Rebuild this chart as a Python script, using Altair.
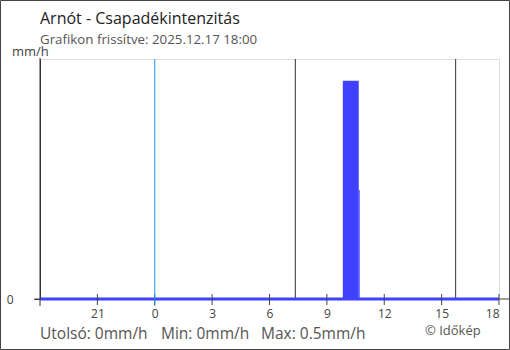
import altair as alt
import pandas as pd

# ---- data ----
rain_start = ["2025-12-17T09:50", "2025-12-17T10:40"]
rain_end = ["2025-12-17T10:40", "2025-12-17T10:43"]
rain_value = [0.5, 0.25]

tick_times = ["2025-12-16T21:00", "2025-12-17T00:00", "2025-12-17T03:00",
              "2025-12-17T06:00", "2025-12-17T09:00", "2025-12-17T12:00",
              "2025-12-17T15:00", "2025-12-17T18:00"]
start_time = "2025-12-16T18:00"
end_time = "2025-12-17T18:00"
midnight = ["2025-12-17T00:00"]
sun_times = ["2025-12-17T07:21", "2025-12-17T15:44"]  # sunrise, sunset

title = "Arnót - Csapadékintenzitás"
subtitle = "Grafikon frissítve: 2025.12.17 18:00"
unit = "mm/h"
stats = ["Utolsó: 0mm/h", "Min: 0mm/h", "Max: 0.5mm/h"]
credit = "© Időkép"

W, H = 459, 240
FONT = "Open Sans"
DARK = "#333333"
GRAY = "#444444"
BLUE = "#4040FF"
LBLUE = "#1E96E6"

xscale = alt.Scale(domain=[alt.DateTime(year=2025, month=12, date=16, hours=18),
                           alt.DateTime(year=2025, month=12, date=17, hours=18)],
                   nice=False)
yscale = alt.Scale(domain=[0, 0.55], nice=False)

rain_df = pd.DataFrame({"start": rain_start, "end": rain_end, "v": rain_value})

x_axis = alt.Axis(values=[alt.DateTime(year=2025, month=12, date=16, hours=21)] +
                  [alt.DateTime(year=2025, month=12, date=17, hours=h) for h in range(0, 19, 3)],
                  format="%-H", title=None, ticks=False, domain=False, grid=False,
                  labelFont=FONT, labelFontSize=12, labelColor="#444444",
                  labelPadding=9, labelBaseline="top")
y_axis = alt.Axis(values=[0], format="d", title=None, grid=False, domainColor=DARK, domainWidth=1,
                  tickColor=GRAY, tickSize=6, labelPadding=21, labelFont=FONT,
                  labelFontSize=12, labelColor="#444444")

bars = alt.Chart(rain_df).mark_rect(color=BLUE).encode(
    x=alt.X("start:T", scale=xscale, axis=x_axis),
    x2="end:T",
    y=alt.Y("v:Q", scale=yscale, axis=y_axis),
    y2=alt.datum(0),
)

# extended axis base line (gray)
base_gray = alt.Chart(pd.DataFrame({"a": [0]})).mark_rule(color=GRAY, strokeWidth=1).encode(
    x=alt.value(-6), x2=alt.value(W + 11), y=alt.value(H))

baseline = alt.Chart(pd.DataFrame({"s": [start_time], "e": [end_time]})).mark_rule(
    color=BLUE, strokeWidth=3).encode(
    x=alt.X("s:T", scale=xscale), x2="e:T", y=alt.value(H))

ticks = alt.Chart(pd.DataFrame({"t": tick_times})).mark_rule(color=GRAY, strokeWidth=1).encode(
    x=alt.X("t:T", scale=xscale), y=alt.value(H - 5), y2=alt.value(H + 6))

sun = alt.Chart(pd.DataFrame({"t": sun_times})).mark_rule(color=DARK, strokeWidth=1).encode(
    x=alt.X("t:T", scale=xscale), y=alt.value(0), y2=alt.value(H))

mid = alt.Chart(pd.DataFrame({"t": midnight})).mark_rule(color=LBLUE, strokeWidth=1).encode(
    x=alt.X("t:T", scale=xscale), y=alt.value(0), y2=alt.value(H + 7))

ystart = alt.Chart(pd.DataFrame({"t": [start_time]})).mark_rule(color=DARK, strokeWidth=1).encode(
    x=alt.X("t:T", scale=xscale), y=alt.value(-1), y2=alt.value(H + 7))


def txt(s, x, y, size, color, align="left"):
    return alt.Chart(pd.DataFrame({"s": [s]})).mark_text(
        font=FONT, fontSize=size, color=color, align=align, baseline="alphabetic").encode(
        x=alt.value(x), y=alt.value(y), text="s:N")


border = alt.Chart(pd.DataFrame({"a": [0]})).mark_rect(
    fillOpacity=0, stroke=GRAY, strokeWidth=1).encode(
    x=alt.value(-39.5), x2=alt.value(469.5), y=alt.value(-58.5), y2=alt.value(290.5))

chart = alt.layer(
    border, base_gray, sun, bars, baseline, ticks, mid, ystart,
    txt(title, 0, -35, 16, "#222222"),
    txt(subtitle, 0, -15, 13.3, "#555555"),
    txt(unit, -28, -3, 13, "#444444"),
    txt(stats[0], 0, 280, 15.5, "#555555"),
    txt(stats[1], 121, 280, 15.5, "#555555"),
    txt(stats[2], 221, 280, 15.5, "#555555"),
    txt(credit, 385, 276, 13, "#555555"),
).properties(
    width=W, height=H,
    autosize=alt.AutoSizeParams(type="none"),
    padding={"left": 40, "top": 59, "right": 11, "bottom": 51},
).configure_view(stroke=None).configure(background="white")

chart.save("out.html", embed_options={"renderer": "svg", "actions": False})
